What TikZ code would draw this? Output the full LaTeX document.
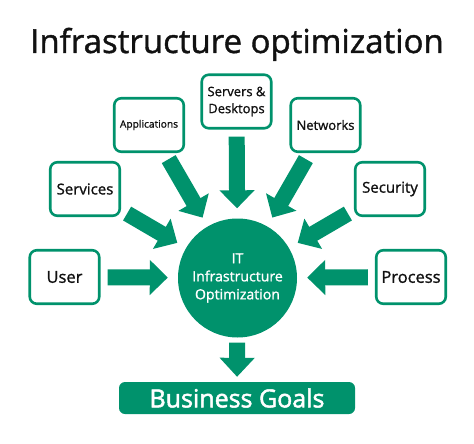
\documentclass[tikz,border=0pt]{standalone}
\usepackage{fontspec}
\setmainfont{Open Sans}
\newfontfamily\medfont{Open Sans}[FakeBold=1.2]
\newfontfamily\heavyfont{Open Sans}[FakeBold=2]
\usetikzlibrary{arrows.meta}
\definecolor{itgreen}{RGB}{0,146,108}
\definecolor{ink}{RGB}{17,17,17}
\begin{document}
\begin{tikzpicture}[x=1pt,y=-1pt,
  box/.style={draw=itgreen, line width=2.6pt, rounded corners=7pt, fill=white,
    minimum width=69.5pt, minimum height=53.5pt, align=center, inner sep=1pt, text=ink},
  bigarrow/.style={draw=itgreen, line width=16pt,
    -{Triangle[width=34pt,length=18pt]}, shorten <=7pt, shorten >=10pt},
  hub/.style={circle, fill=itgreen, minimum size=119pt, inner sep=0pt, text=white, align=center},
  goal/.style={fill=itgreen, rounded corners=6pt, minimum width=236pt, minimum height=32pt,
    inner sep=0pt, text=white}
]
\useasboundingbox (0,0) rectangle (474,444);

\node[anchor=base, text=ink, font=\medfont\fontsize{33}{36}\selectfont] (title) at (237,53) {Infrastructure optimization};

\node[hub, font=\medfont\fontsize{14.1}{18}\selectfont] (hub) at (237.5,278) {IT\\Infrastructure\\Optimization};

\node[box, font=\medfont\fontsize{13}{17}\selectfont] (srv) at (236.5,101.5) {Servers \&\\Desktops};
\node[box, font=\medfont\fontsize{10.2}{12}\selectfont] (app) at (149,125) {Applications};
\node[box, font=\medfont\fontsize{13}{15}\selectfont] (net) at (325.5,125) {Networks};
\node[box, font=\medfont\fontsize{15}{17}\selectfont] (svc) at (85,189) {Services};
\node[box, font=\medfont\fontsize{15}{17}\selectfont] (sec) at (390,189) {Security};
\node[box, font=\medfont\fontsize{16.5}{19}\selectfont] (usr) at (64.5,277) {User};
\node[box, font=\medfont\fontsize{16.5}{19}\selectfont] (prc) at (411,277) {Process};

\node[goal, font=\heavyfont\fontsize{25}{28}\selectfont] (bg) at (237,398) {Business Goals};

\foreach \n in {srv,app,net,svc,sec,usr,prc}
  \draw[bigarrow] (\n) -- (hub);

\draw[bigarrow, shorten <=5pt, shorten >=5pt, -{Triangle[width=34pt,length=19pt]}] (hub) -- (bg);
\end{tikzpicture}
\end{document}
